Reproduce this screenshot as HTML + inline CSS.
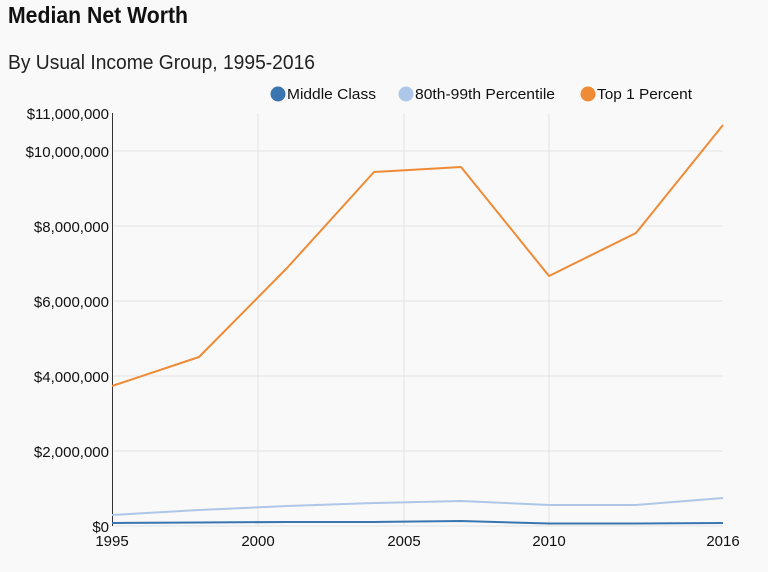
<!DOCTYPE html>
<html><head><meta charset="utf-8"><style>
html,body{margin:0;padding:0;background:#f9f9f9;width:768px;height:572px;overflow:hidden}
</style></head><body>
<svg width="768" height="572" xmlns="http://www.w3.org/2000/svg" font-family="'Liberation Sans Narrow','Liberation Sans',sans-serif">
<rect width="768" height="572" fill="#f9f9f9"/>
<text x="8" y="23" font-size="23" font-weight="bold" fill="#111" textLength="180" lengthAdjust="spacingAndGlyphs">Median Net Worth</text>
<text x="8" y="69" font-size="20" fill="#222" textLength="307" lengthAdjust="spacingAndGlyphs">By Usual Income Group, 1995-2016</text>
<g font-size="15" fill="#111">
<circle cx="278" cy="94" r="7.5" fill="#3b75af"/><text x="287" y="99" textLength="89" lengthAdjust="spacingAndGlyphs">Middle Class</text>
<circle cx="406" cy="94" r="7.5" fill="#aec7e8"/><text x="415" y="99" textLength="140" lengthAdjust="spacingAndGlyphs">80th-99th Percentile</text>
<circle cx="588" cy="94" r="7.5" fill="#ef8a36"/><text x="597" y="99" textLength="95" lengthAdjust="spacingAndGlyphs">Top 1 Percent</text>
</g>
<g stroke="#e3e3e3" stroke-width="1">
<line x1="112" x2="723" y1="151" y2="151"/><line x1="112" x2="723" y1="226" y2="226"/>
<line x1="112" x2="723" y1="301" y2="301"/><line x1="112" x2="723" y1="376" y2="376"/>
<line x1="112" x2="723" y1="451" y2="451"/><line x1="112" x2="723" y1="526" y2="526"/>
<line x1="258" x2="258" y1="113" y2="526"/><line x1="404" x2="404" y1="113" y2="526"/>
<line x1="549" x2="549" y1="113" y2="526"/>
</g>
<line x1="112.5" x2="112.5" y1="113" y2="526" stroke="#333" stroke-width="1"/>
<g font-size="15" fill="#111" text-anchor="end" font-family="'Liberation Sans',sans-serif">
<text x="109" y="119">$11,000,000</text><text x="109" y="157">$10,000,000</text>
<text x="109" y="232">$8,000,000</text><text x="109" y="307">$6,000,000</text>
<text x="109" y="382">$4,000,000</text><text x="109" y="457">$2,000,000</text>
<text x="109" y="532">$0</text>
</g>
<g font-size="15" fill="#111" text-anchor="middle" font-family="'Liberation Sans',sans-serif">
<text x="112" y="546">1995</text><text x="258" y="546">2000</text><text x="404" y="546">2005</text>
<text x="549" y="546">2010</text><text x="723" y="546">2016</text>
</g>
<g fill="none" stroke-width="2" stroke-linejoin="round">
<polyline stroke="#aec7e8" points="112,515 199,510 287,506 374,503 461,501 549,505 636,505 723,498"/>
<polyline stroke="#3b75af" points="112,523 199,522.5 287,522 374,522 461,521 549,523.5 636,523.5 723,523"/>
<polyline stroke="#ef8a36" points="112,386 199,357 287,268 374,172 461,167 549,276 636,233 723,125"/>
</g>
</svg>
</body></html>
